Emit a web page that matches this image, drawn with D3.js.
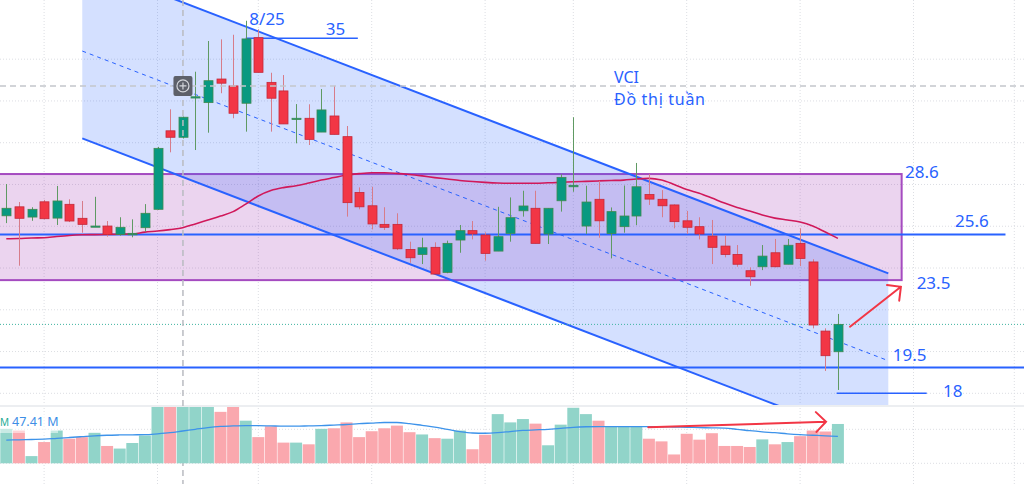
<!DOCTYPE html>
<html>
<head>
<meta charset="utf-8">
<script src="https://cdn.jsdelivr.net/npm/d3@7"></script>
<style>
  body { margin: 0; background: #fff; }
  svg { display: block; }
  text { font-family: "Noto Sans", sans-serif; }
</style>
</head>
<body>
<div id="chart"></div>
<script>
// weekly candles, VCI
const opens = [26.50, 26.93, 26.44, 27.17, 26.39, 27.05, 26.38, 25.99, 26.01, 25.61,
  25.59, 25.93, 26.81, 30.57, 30.26, 32.14, 31.92, 33.05, 32.72, 31.89,
  35.03, 32.89, 32.48, 31.12, 31.17, 30.51, 31.28, 30.29, 27.62, 26.98,
  26.09, 26.09, 24.89, 24.65, 24.99, 23.79, 25.34, 25.79, 25.58, 24.81,
  25.66, 26.74, 26.86, 25.63, 27.22, 27.89, 26.01, 27.29, 25.65, 25.98,
  26.49, 27.52, 27.29, 27.02, 26.26, 25.98, 25.53, 25.05, 24.65, 23.87,
  24.06, 24.73, 24.18, 25.18, 24.29, 20.98, 19.99];
const highs = [28.02, 27.16, 26.91, 27.26, 27.93, 27.29, 27.21, 27.41, 26.25, 26.43,
  26.33, 27.06, 29.80, 31.60, 31.25, 33.40, 34.87, 34.95, 35.17, 35.84,
  35.43, 33.35, 33.24, 31.85, 31.84, 32.57, 32.72, 30.80, 27.86, 27.89,
  26.91, 26.62, 25.26, 25.45, 25.23, 25.31, 26.06, 26.25, 25.71, 26.93,
  27.38, 27.70, 27.70, 26.86, 28.49, 31.22, 27.94, 28.18, 26.90, 27.95,
  29.03, 28.50, 27.73, 27.05, 26.73, 26.43, 26.30, 25.55, 25.10, 24.03,
  25.10, 25.39, 25.39, 25.90, 24.42, 21.11, 21.80];
const lows = [26.15, 24.11, 26.26, 26.33, 26.06, 26.20, 25.69, 25.96, 25.50, 25.55,
  25.47, 25.74, 26.78, 29.54, 30.20, 29.65, 30.48, 32.37, 31.17, 30.53,
  33.37, 30.53, 30.90, 29.97, 29.89, 30.51, 30.40, 26.46, 26.81, 25.85,
  25.82, 24.86, 24.25, 24.19, 23.71, 23.75, 24.73, 25.37, 24.35, 24.81,
  25.26, 26.46, 25.18, 25.15, 26.70, 27.65, 25.63, 25.45, 24.46, 25.69,
  26.05, 27.02, 26.43, 25.90, 25.63, 25.37, 24.19, 24.51, 24.06, 23.15,
  23.90, 24.03, 24.18, 24.09, 21.11, 19.07, 18.16];
const closes = [26.86, 26.38, 26.81, 26.36, 27.21, 26.25, 26.09, 26.01, 25.61, 25.95,
  25.66, 26.62, 29.73, 30.26, 31.22, 32.20, 32.97, 32.85, 31.41, 34.97,
  33.37, 32.13, 30.90, 31.17, 30.16, 31.57, 30.40, 27.13, 26.93, 26.11,
  25.95, 24.92, 24.49, 24.97, 23.71, 25.18, 25.79, 25.63, 24.70, 25.50,
  26.41, 26.97, 25.18, 26.86, 28.34, 27.96, 27.16, 26.26, 26.70, 26.49,
  27.89, 27.30, 26.98, 26.22, 25.95, 25.63, 24.99, 24.65, 24.18, 23.58,
  24.57, 24.06, 25.09, 24.46, 21.27, 19.80, 21.30];
const priceMa = [25.40, 25.41, 25.44, 25.45, 25.51, 25.56, 25.59, 25.60, 25.61, 25.62,
  25.63, 25.72, 25.77, 25.84, 25.93, 26.11, 26.30, 26.49, 26.70, 27.06,
  27.45, 27.71, 27.85, 27.94, 28.07, 28.21, 28.33, 28.45, 28.52, 28.56,
  28.56, 28.53, 28.48, 28.41, 28.33, 28.26, 28.19, 28.14, 28.10, 28.07,
  28.06, 28.06, 28.06, 28.08, 28.10, 28.13, 28.15, 28.17, 28.19, 28.21,
  28.26, 28.29, 28.21, 28.00, 27.76, 27.58, 27.35, 27.11, 26.90, 26.73,
  26.54, 26.39, 26.30, 26.20, 26.01, 25.72, 25.42];
// volume in millions
const volumes = [60.8, 57.8, 12.7, 37.5, 57.8, 43.4, 46.2, 53.8, 30.6, 26.0,
  35.8, 49.1, 130, 140, 120, 110, 105, 90.8, 102, 75.2,
  46.2, 65.3, 36.5, 36.5, 33.5, 60.8, 61.8, 72.2, 46.2, 56.6,
  61.8, 66.5, 54.9, 50.9, 44.4, 43.4, 57.8, 24.8, 50.3, 86.8,
  72.2, 78.1, 70.0, 31.8, 68.2, 98, 86.8, 75.2, 64.8, 64.8,
  64.8, 43.4, 38.7, 15.6, 52.1, 41.7, 53.1, 30.6, 30.6, 28.8,
  42.2, 33.5, 37.5, 47.9, 57.8, 56.1, 69.4];
const volumeMa = [41, 41.5, 42, 42.5, 44, 45.5, 47, 48.5, 49.5, 50,
  50.3, 50.5, 52, 54, 57, 60, 63, 65, 66, 66.5,
  66.5, 66, 65.5, 65.5, 66, 66.5, 67.5, 68.5, 70, 71,
  72, 72, 70, 67, 64, 60, 56, 53.5, 53, 54,
  56, 58, 59, 60, 61.5, 63.5, 64.5, 64.8, 64.8, 64.8,
  64.8, 64.8, 64.5, 64, 63.5, 63, 62.5, 62, 60, 57.5,
  55.5, 54, 52, 50.5, 49.5, 48.5, 47.41];

const priceGrid = [18, 20, 22, 24, 26, 28, 30, 32, 34];
const volumeGrid = [0, 60];
const timeGrid = [3, 12, 20, 29, 38, 45, 54, 63, 72, 80];

// drawings (bar index, price)
const channelIdx = [6.03, 70.0];
const channelUpper = [38.57, 23.74];
const channelLower = [30.21, 15.38];
const boxIdx = [-5, 71.06];
const boxPrices = [28.5, 23.42];
const levelPrices = [25.6, 19.24];
const levelEnds = [79.3, 90];
const peakLine = { from: 19, to: 27.9, price: 35 };
const floorLine = { from: 65.9, to: 73.05, price: 18 };
const priceLabels = ['28.6', '25.6', '23.5', '19.5', '18'];

const width = 1024;
const height = 484;
const mainBottom = 405;
const volTop = 407;

const blue = '#2962ff';
const red = '#f23645';
const green = '#089981';

const n = opens.length;
const candles = d3.range(n).map((i) => ({
  i, o: opens[i], h: highs[i], l: lows[i], c: closes[i], v: volumes[i],
}));

const x = d3.scaleLinear().domain([0, n - 1]).range([6.3, 837.9]);
const y = d3.scaleLinear().domain([35, 18]).range([38.3, 393.3]);
const yVol = d3.scaleLinear().domain([0, 60]).range([463.3, 429.3]);

const svg = d3.select('#chart').append('svg').attr('width', width).attr('height', height);

const defs = svg.append('defs');
defs.append('clipPath').attr('id', 'clip-main')
  .append('rect').attr('x', 0).attr('y', 0).attr('width', width).attr('height', mainBottom);
defs.append('clipPath').attr('id', 'clip-vol')
  .append('rect').attr('x', 0).attr('y', volTop).attr('width', width).attr('height', height - volTop);

// grid
const grid = svg.append('g').attr('stroke', '#dcdee3').attr('stroke-dasharray', '1,2');
grid.selectAll('.vg').data(timeGrid).enter().append('line')
  .attr('x1', (d) => x(d)).attr('x2', (d) => x(d))
  .attr('y1', 0).attr('y2', height);
grid.selectAll('.hg').data(priceGrid).enter().append('line')
  .attr('x1', 0).attr('x2', width)
  .attr('y1', (d) => y(d)).attr('y2', (d) => y(d));
grid.selectAll('.volg').data(volumeGrid).enter().append('line')
  .attr('x1', 0).attr('x2', width)
  .attr('y1', (d) => yVol(d)).attr('y2', (d) => yVol(d));

// pane separator
svg.append('rect').attr('x', 0).attr('y', mainBottom).attr('width', width).attr('height', 2)
  .attr('fill', '#eceef1');

const main = svg.append('g').attr('clip-path', 'url(#clip-main)');

// rectangle zone
main.append('rect')
  .attr('x', x(boxIdx[0])).attr('y', y(boxPrices[0]))
  .attr('width', x(boxIdx[1]) - x(boxIdx[0]))
  .attr('height', y(boxPrices[1]) - y(boxPrices[0]))
  .attr('fill', 'rgba(156,39,176,0.2)')
  .attr('stroke', '#a54bc0').attr('stroke-width', 2);

// channel
const chanPoly = [
  [x(channelIdx[0]), y(channelUpper[0])],
  [x(channelIdx[1]), y(channelUpper[1])],
  [x(channelIdx[1]), y(channelLower[1])],
  [x(channelIdx[0]), y(channelLower[0])],
];
main.append('path').attr('d', d3.line()(chanPoly) + 'Z').attr('fill', 'rgba(41,98,255,0.2)');
main.append('line')
  .attr('x1', chanPoly[0][0]).attr('y1', chanPoly[0][1])
  .attr('x2', chanPoly[1][0]).attr('y2', chanPoly[1][1])
  .attr('stroke', blue).attr('stroke-width', 2);
main.append('line')
  .attr('x1', chanPoly[3][0]).attr('y1', chanPoly[3][1])
  .attr('x2', chanPoly[2][0]).attr('y2', chanPoly[2][1])
  .attr('stroke', blue).attr('stroke-width', 2);
main.append('line')
  .attr('x1', x(channelIdx[0])).attr('y1', y((channelUpper[0] + channelLower[0]) / 2))
  .attr('x2', x(channelIdx[1])).attr('y2', y((channelUpper[1] + channelLower[1]) / 2))
  .attr('stroke', blue).attr('stroke-width', 1).attr('stroke-dasharray', '4,4');

// horizontal levels
main.selectAll('.level').data(levelPrices).enter().append('line')
  .attr('x1', 0).attr('x2', (d, k) => x(levelEnds[k]))
  .attr('y1', (d) => y(d)).attr('y2', (d) => y(d))
  .attr('stroke', blue).attr('stroke-width', 2);
[peakLine, floorLine].forEach((s) => {
  main.append('line')
    .attr('x1', x(s.from)).attr('x2', x(s.to))
    .attr('y1', y(s.price)).attr('y2', y(s.price))
    .attr('stroke', blue).attr('stroke-width', 1.5);
});

// last price line
main.append('line')
  .attr('x1', 0).attr('x2', width)
  .attr('y1', y(closes[n - 1])).attr('y2', y(closes[n - 1]))
  .attr('stroke', '#3fb3a0').attr('stroke-dasharray', '1,2');

// moving average
main.append('path')
  .datum(priceMa)
  .attr('d', d3.line().x((d, i) => x(i)).y((d) => y(d)).curve(d3.curveMonotoneX))
  .attr('fill', 'none').attr('stroke', '#d0185a').attr('stroke-width', 1.6);

// candles
const candle = main.append('g').selectAll('g').data(candles).enter().append('g');
candle.append('line')
  .attr('x1', (d) => Math.round(x(d.i)) + 0.5).attr('x2', (d) => Math.round(x(d.i)) + 0.5)
  .attr('y1', (d) => y(d.h)).attr('y2', (d) => y(d.l))
  .attr('stroke', (d) => (d.c >= d.o ? '#5f9a63' : '#d77c8a'));
candle.append('rect')
  .attr('x', (d) => Math.round(x(d.i)) - 4)
  .attr('width', 9)
  .attr('y', (d) => y(Math.max(d.o, d.c)))
  .attr('height', (d) => Math.max(1.2, Math.abs(y(d.o) - y(d.c))))
  .attr('fill', (d) => (d.c >= d.o ? green : red))
  .attr('stroke', (d) => (d.c >= d.o ? '#3f8a4f' : '#c4283a'))
  .attr('stroke-width', 0.8);

// crosshair
const cross = { i: 14.02, p: 32.72 };
svg.append('line')
  .attr('x1', x(cross.i)).attr('x2', x(cross.i)).attr('y1', 0).attr('y2', height)
  .attr('stroke', '#b9bbc1').attr('stroke-width', 1.5).attr('stroke-dasharray', '6,4');
main.append('line')
  .attr('x1', 0).attr('x2', width).attr('y1', y(cross.p)).attr('y2', y(cross.p))
  .attr('stroke', '#c4c6cb').attr('stroke-width', 1.5).attr('stroke-dasharray', '6,4');
const icon = svg.append('g').attr('transform', `translate(${x(cross.i)},${y(cross.p)})`);
icon.append('rect').attr('x', -9.5).attr('y', -10).attr('width', 19).attr('height', 20)
  .attr('rx', 2).attr('fill', '#5d6069');
icon.append('circle').attr('r', 6).attr('fill', 'none').attr('stroke', '#d4d6db').attr('stroke-width', 1.2);
icon.append('path').attr('d', 'M-3.5,0H3.5M0,-3.5V3.5').attr('stroke', '#d4d6db').attr('stroke-width', 1.2);

// arrows
function arrow(g, x1, y1, x2, y2) {
  const ang = Math.atan2(y2 - y1, x2 - x1);
  const len = 14;
  const a1 = ang + Math.PI - Math.PI / 4;
  const a2 = ang + Math.PI + Math.PI / 4;
  g.append('path')
    .attr('d', `M${x1},${y1}L${x2},${y2}M${x2 + len * Math.cos(a1)},${y2 + len * Math.sin(a1)}L${x2},${y2}L${x2 + len * Math.cos(a2)},${y2 + len * Math.sin(a2)}`)
    .attr('fill', 'none').attr('stroke', red).attr('stroke-width', 2)
    .attr('stroke-linecap', 'round');
}
arrow(svg, x(66.96), y(21.19), x(71.0), y(23.10));

// labels
const lab = svg.append('g').attr('fill', blue).attr('font-size', 17);
lab.append('text').attr('x', x(19.29)).attr('y', y(35.64)).text('8/25');
lab.append('text').attr('x', x(25.35)).attr('y', y(35.16)).text('35');
const labelAt = [[71.33, 28.29], [75.29, 25.98], [72.25, 22.98], [70.35, 19.56], [74.34, 17.83]];
lab.selectAll('.pl').data(priceLabels).enter().append('text')
  .attr('x', (d, k) => x(labelAt[k][0])).attr('y', (d, k) => y(labelAt[k][1]))
  .text((d) => d);
const note = svg.append('g').attr('fill', blue).attr('font-size', 16);
note.append('text').attr('x', x(48.23)).attr('y', y(32.84)).text('VCI');
note.append('text').attr('x', x(48.23)).attr('y', y(31.82)).attr('textLength', 91).text('Đồ thị tuần');

// volume pane
const vol = svg.append('g').attr('clip-path', 'url(#clip-vol)');
vol.selectAll('rect').data(candles).enter().append('rect')
  .attr('x', (d) => x(d.i) - 6)
  .attr('width', 12)
  .attr('y', (d) => yVol(d.v))
  .attr('height', (d) => yVol(0) - yVol(d.v))
  .attr('fill', (d) => (d.c >= d.o ? '#91d4c9' : '#faa8ae'));
vol.append('path')
  .datum(volumeMa)
  .attr('d', d3.line().x((d, i) => x(i)).y((d) => yVol(d)).curve(d3.curveMonotoneX))
  .attr('fill', 'none').attr('stroke', '#3d93ea').attr('stroke-width', 1.3);

// volume legend
vol.append('rect').attr('x', 0).attr('y', 412).attr('width', 58).attr('height', 21)
  .attr('fill', 'rgba(255,255,255,0.5)');
vol.append('text').attr('x', 0).attr('y', 426).attr('font-size', 10).attr('fill', '#22ab94').text('M');
vol.append('text').attr('x', 12).attr('y', 426).attr('font-size', 12.5).attr('fill', '#3d8ee6')
  .text(d3.format('.2f')(volumeMa[n - 1]) + ' M');

arrow(svg, x(50.95), yVol(63.5), x(65.06), yVol(73.4));
</script>
</body>
</html>
